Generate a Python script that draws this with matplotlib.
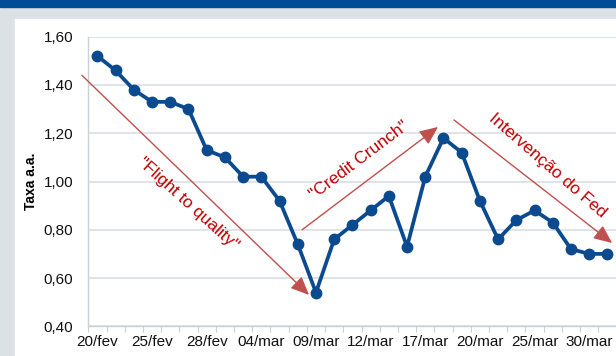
import matplotlib
matplotlib.use("Agg")
import matplotlib.pyplot as plt
from matplotlib.patches import Rectangle
from matplotlib.ticker import FuncFormatter, FixedLocator

plt.rcParams['font.family'] = ['Liberation Sans', 'DejaVu Sans']

# taxa diaria (% a.a.)
taxa = [1.52, 1.46, 1.38, 1.33, 1.33, 1.30, 1.13, 1.10, 1.02, 1.02,
        0.92, 0.74, 0.54, 0.76, 0.82, 0.88, 0.94, 0.73, 1.02, 1.18,
        1.12, 0.92, 0.76, 0.84, 0.88, 0.83, 0.72, 0.70, 0.70]
rotulos = ['20/fev', '25/fev', '28/fev', '04/mar', '09/mar',
           '12/mar', '17/mar', '20/mar', '25/mar', '30/mar']
passo_rotulo = 3

azul = '#0b4a8e'
vermelho_seta = '#c0504d'
vermelho_texto = '#c00000'
cinza_grade = '#d5dce4'

fig = plt.figure(figsize=(6.16, 3.56), dpi=100)

# moldura: faixa azul, faixa cinza e painel branco
fig.patches.append(Rectangle((0, 0), 1, 1, transform=fig.transFigure,
                             color='#dce1e6', zorder=-3))
fig.patches.append(Rectangle((0, 1 - 7 / 356), 1, 7 / 356, transform=fig.transFigure,
                             color='#004c97', zorder=-2))
fig.patches.append(Rectangle((15 / 616, 0), 1, 1 - 19 / 356, transform=fig.transFigure,
                             color='white', zorder=-2))

ax = fig.add_axes([88.3 / 616, (356 - 326.3) / 356, 528.2 / 616, 289.6 / 356])
ax.set_facecolor('none')

x = list(range(len(taxa)))
ax.plot(x, taxa, color=azul, lw=2.7, marker='o', ms=7.5, zorder=3)

ax.set_xlim(-0.5, len(taxa) - 0.5)
ax.set_ylim(0.40, 1.60)
ax.set_yticks([0.40 + 0.2 * i for i in range(7)])
ax.yaxis.set_major_formatter(FuncFormatter(lambda v, p: f'{v:.2f}'.replace('.', ',')))
ax.grid(axis='y', color=cinza_grade, lw=1.1, zorder=0)

ax.set_xticks(x[::passo_rotulo])
ax.set_xticklabels(rotulos)
ax.xaxis.set_minor_locator(FixedLocator([i - 0.5 for i in range(len(taxa) + 1)]))
ax.tick_params(axis='x', which='major', length=0, pad=6, labelsize=11, colors='#111111')
ax.tick_params(axis='x', which='minor', length=4, width=0.8, color='#c8d0d8')
ax.tick_params(axis='y', length=0, pad=11, labelsize=11, colors='#111111')

for lado in ['top', 'right']:
    ax.spines[lado].set_visible(False)
for lado in ['left', 'bottom']:
    ax.spines[lado].set_color('#c8d0d8')
    ax.spines[lado].set_linewidth(1.0)

fig.text(31 / 616, 1 - 181 / 356, 'Taxa a.a.', rotation=90, fontsize=10,
         fontweight='bold', ha='center', va='center')

# setas das fases
setas = [((-0.85, 1.44), (11.62, 0.53)),
         ((11.24, 0.80), (18.70, 1.226)),
         ((19.58, 1.255), (28.26, 0.745))]
for ini, fim in setas:
    ax.annotate('', xy=fim, xytext=ini, annotation_clip=False,
                arrowprops=dict(arrowstyle='-|>,head_length=0.8,head_width=0.35',
                                color=vermelho_seta, lw=1.0, mutation_scale=14,
                                shrinkA=0, shrinkB=0))

ax.text(4.97, 0.907, '"Flight to quality"', rotation=-42, color=vermelho_texto,
        fontsize=12.5, ha='center', va='center', rotation_mode='anchor')
ax.text(14.37, 1.089, '"Credit Crunch"', rotation=37, color=vermelho_texto,
        fontsize=12.5, ha='center', va='center', rotation_mode='anchor')
ax.text(24.74, 1.068, 'Intervenção do Fed', rotation=-41, color=vermelho_texto,
        fontsize=12.5, ha='center', va='center', rotation_mode='anchor')

fig.savefig('out.png', dpi=100)
